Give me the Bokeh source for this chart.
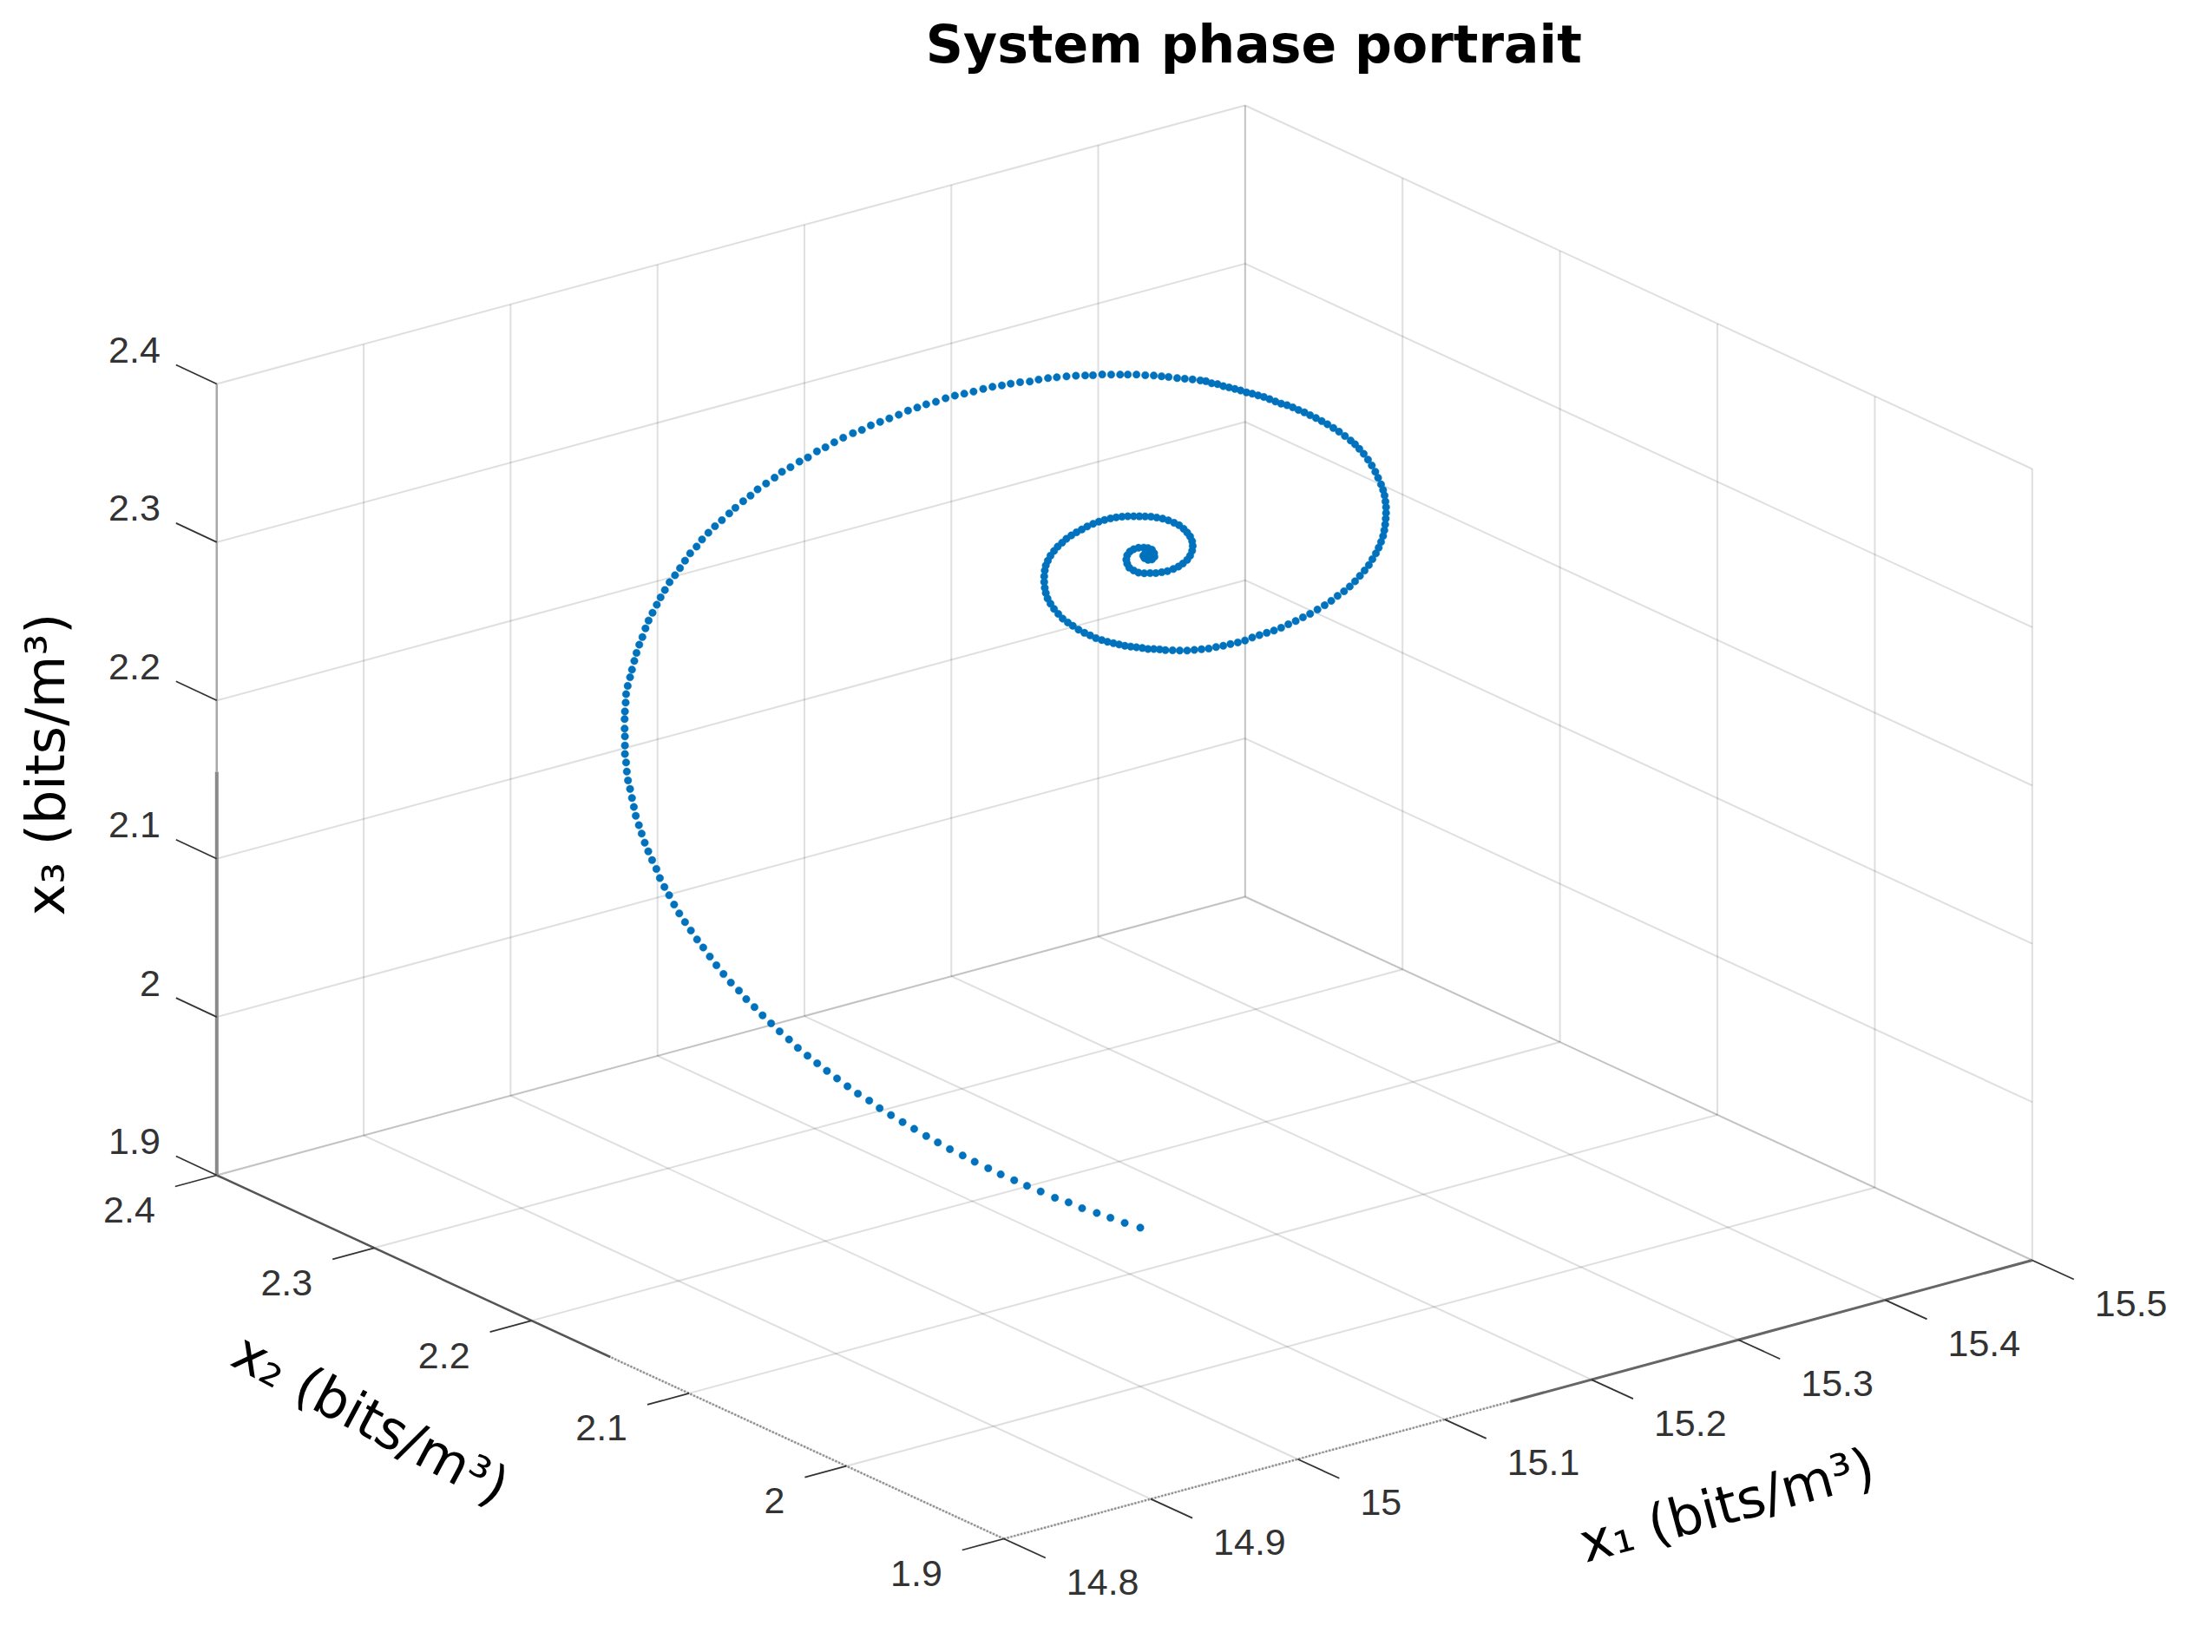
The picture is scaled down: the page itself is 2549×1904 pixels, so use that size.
from bokeh.core.properties import value
from bokeh.embed import file_html
from bokeh.models import Range1d
from bokeh.plotting import figure
from bokeh.resources import INLINE

x1_ticks = [14.8, 14.9, 15.0, 15.1, 15.2, 15.3, 15.4, 15.5]
x1_labels = ["14.8", "14.9", "15", "15.1", "15.2", "15.3", "15.4", "15.5"]
x2_ticks = [1.9, 2.0, 2.1, 2.2, 2.3, 2.4]
x2_labels = ["1.9", "2", "2.1", "2.2", "2.3", "2.4"]
x3_ticks = [1.9, 2.0, 2.1, 2.2, 2.3, 2.4]
x3_labels = ["1.9", "2", "2.1", "2.2", "2.3", "2.4"]

# a single view does not give the depth of the trajectory, so x2 stays at one value
x2_traj = 2.1495

x1_traj = [
    15.1602, 15.1496, 15.1399, 15.1306, 15.1206, 15.1114, 15.1021, 15.0924, 15.0831, 15.0744,
    15.0652, 15.0567, 15.0475, 15.0393, 15.0306, 15.0224, 15.0145, 15.0063, 14.9984, 14.9905,
    14.9828, 14.9757, 14.9680, 14.9609, 14.9538, 14.9469, 14.9403, 14.9337, 14.9271, 14.9211,
    14.9147, 14.9089, 14.9031, 14.8976, 14.8920, 14.8870, 14.8815, 14.8765, 14.8717, 14.8672,
    14.8627, 14.8585, 14.8543, 14.8503, 14.8464, 14.8429, 14.8395, 14.8363, 14.8332, 14.8308,
    14.8279, 14.8253, 14.8229, 14.8208, 14.8189, 14.8168, 14.8155, 14.8142, 14.8129, 14.8115,
    14.8107, 14.8102, 14.8094, 14.8094, 14.8094,
    14.8092, 14.8092, 14.8094, 14.8099, 14.8102, 14.8113, 14.8129, 14.8142, 14.8158, 14.8173,
    14.8192, 14.8213, 14.8234, 14.8255, 14.8282, 14.8311, 14.8337, 14.8366, 14.8398, 14.8435,
    14.8469, 14.8503, 14.8538, 14.8582, 14.8619, 14.8662, 14.8707, 14.8754, 14.8804, 14.8846,
    14.8899, 14.8949, 14.8997, 14.9055, 14.9113, 14.9163, 14.9221, 14.9282, 14.9340, 14.9401,
    14.9459, 14.9519, 14.9580, 14.9646, 14.9707, 14.9768, 14.9831, 14.9894, 14.9958, 15.0021,
    15.0084, 15.0145, 15.0211, 15.0277, 15.0340, 15.0404, 15.0467, 15.0533, 15.0596, 15.0660,
    15.0720, 15.0784, 15.0850, 15.0910, 15.0974, 15.1034, 15.1100, 15.1164, 15.1227, 15.1280,
    15.1343, 15.1404, 15.1465, 15.1517, 15.1576, 15.1636, 15.1694, 15.1747, 15.1795, 15.1853,
    15.1905, 15.1958, 15.2011,
    15.2049, 15.2088, 15.2128, 15.2167, 15.2206, 15.2246, 15.2285, 15.2325, 15.2364, 15.2404,
    15.2443, 15.2482, 15.2522, 15.2561, 15.2601, 15.2640, 15.2679, 15.2719, 15.2758, 15.2798,
    15.2837, 15.2876, 15.2916, 15.2955, 15.2995, 15.3034, 15.3064, 15.3093, 15.3123, 15.3152,
    15.3178, 15.3202, 15.3221, 15.3241, 15.3255, 15.3265, 15.3271, 15.3275, 15.3275, 15.3273,
    15.3269, 15.3263, 15.3255, 15.3241, 15.3225, 15.3206, 15.3182, 15.3158, 15.3129, 15.3097,
    15.3064, 15.3028, 15.2989, 15.2945, 15.2902, 15.2857, 15.2808, 15.2758, 15.2709, 15.2660,
    15.2610, 15.2561, 15.2512, 15.2463, 15.2413, 15.2364, 15.2315, 15.2266, 15.2216, 15.2167,
    15.2118, 15.2068, 15.2019, 15.1970, 15.1921, 15.1871, 15.1822, 15.1773,
    15.1734, 15.1694, 15.1655, 15.1616, 15.1576, 15.1537, 15.1497, 15.1458, 15.1419, 15.1379,
    15.1340, 15.1300, 15.1261, 15.1222, 15.1182, 15.1143, 15.1109, 15.1074, 15.1044, 15.1015,
    15.0991, 15.0971, 15.0959, 15.0952, 15.0948, 15.0948, 15.0952, 15.0959, 15.0973, 15.0991,
    15.1015, 15.1040, 15.1070, 15.1099, 15.1133, 15.1168, 15.1204, 15.1241, 15.1281, 15.1320,
    15.1359, 15.1399, 15.1438, 15.1478, 15.1517, 15.1557, 15.1596, 15.1635, 15.1675, 15.1714,
    15.1754, 15.1793, 15.1832, 15.1866, 15.1897, 15.1921, 15.1941, 15.1955, 15.1959, 15.1955,
    15.1941, 15.1921, 15.1892, 15.1862, 15.1827, 15.1787, 15.1748, 15.1708, 15.1669, 15.1629,
    15.1590, 15.1557, 15.1527, 15.1513, 15.1507, 15.1513, 15.1531, 15.1557, 15.1590, 15.1626,
    15.1655, 15.1681, 15.1696, 15.1698, 15.1681, 15.1655, 15.1631, 15.1622, 15.1635, 15.1655,
    15.1661, 15.1655,
]

x3_traj = [
    1.8914, 1.8971, 1.9027, 1.9081, 1.9136, 1.9196, 1.9249, 1.9313, 1.9372, 1.9429,
    1.9490, 1.9550, 1.9614, 1.9674, 1.9736, 1.9799, 1.9859, 1.9925, 1.9988, 2.0052,
    2.0115, 2.0181, 2.0244, 2.0308, 2.0376, 2.0441, 2.0505, 2.0570, 2.0636, 2.0704,
    2.0771, 2.0837, 2.0902, 2.0968, 2.1032, 2.1099, 2.1163, 2.1230, 2.1297, 2.1364,
    2.1432, 2.1493, 2.1561, 2.1624, 2.1688, 2.1753, 2.1821, 2.1881, 2.1945, 2.2009,
    2.2072, 2.2134, 2.2195, 2.2257, 2.2315, 2.2380, 2.2439, 2.2499, 2.2559, 2.2617,
    2.2675, 2.2733, 2.2789, 2.2843, 2.2900,
    2.2950, 2.3010, 2.3058, 2.3112, 2.3165, 2.3214, 2.3265, 2.3310, 2.3361, 2.3408,
    2.3455, 2.3498, 2.3548, 2.3592, 2.3634, 2.3678, 2.3718, 2.3757, 2.3798, 2.3833,
    2.3869, 2.3908, 2.3945, 2.3977, 2.4012, 2.4044, 2.4074, 2.4100, 2.4130, 2.4155,
    2.4184, 2.4207, 2.4234, 2.4256, 2.4279, 2.4303, 2.4318, 2.4338, 2.4350, 2.4373,
    2.4384, 2.4400, 2.4414, 2.4426, 2.4431, 2.4445, 2.4451, 2.4457, 2.4464, 2.4474,
    2.4478, 2.4483, 2.4482, 2.4488, 2.4489, 2.4485, 2.4482, 2.4483, 2.4480, 2.4473,
    2.4469, 2.4462, 2.4450, 2.4447, 2.4440, 2.4430, 2.4419, 2.4407, 2.4393, 2.4381,
    2.4370, 2.4354, 2.4339, 2.4326, 2.4311, 2.4292, 2.4275, 2.4257, 2.4241, 2.4219,
    2.4202, 2.4184, 2.4165,
    2.4150, 2.4127, 2.4112, 2.4089, 2.4071, 2.4052, 2.4032, 2.4010, 2.3992, 2.3971,
    2.3951, 2.3928, 2.3903, 2.3880, 2.3860, 2.3836, 2.3810, 2.3785, 2.3757, 2.3729,
    2.3700, 2.3670, 2.3637, 2.3603, 2.3566, 2.3528, 2.3496, 2.3460, 2.3421, 2.3377,
    2.3334, 2.3288, 2.3245, 2.3199, 2.3160, 2.3122, 2.3083, 2.3046, 2.3009, 2.2974,
    2.2938, 2.2903, 2.2869, 2.2835, 2.2803, 2.2771, 2.2741, 2.2710, 2.2682, 2.2657,
    2.2631, 2.2607, 2.2586, 2.2568, 2.2548, 2.2531, 2.2516, 2.2502, 2.2492, 2.2481,
    2.2473, 2.2463, 2.2458, 2.2456, 2.2454, 2.2451, 2.2445, 2.2445, 2.2447, 2.2449,
    2.2453, 2.2456, 2.2464, 2.2472, 2.2480, 2.2493, 2.2507, 2.2520,
    2.2535, 2.2547, 2.2557, 2.2573, 2.2588, 2.2602, 2.2617, 2.2635, 2.2653, 2.2672,
    2.2693, 2.2715, 2.2742, 2.2768, 2.2798, 2.2832, 2.2862, 2.2895, 2.2933, 2.2971,
    2.3010, 2.3048, 2.3086, 2.3120, 2.3158, 2.3194, 2.3230, 2.3260, 2.3287, 2.3314,
    2.3338, 2.3359, 2.3376, 2.3393, 2.3406, 2.3417, 2.3426, 2.3435, 2.3442, 2.3446,
    2.3447, 2.3446, 2.3443, 2.3438, 2.3430, 2.3420, 2.3410, 2.3400, 2.3388, 2.3373,
    2.3356, 2.3335, 2.3310, 2.3286, 2.3256, 2.3226, 2.3196, 2.3163, 2.3132, 2.3102,
    2.3075, 2.3053, 2.3037, 2.3026, 2.3019, 2.3016, 2.3019, 2.3023, 2.3033, 2.3042,
    2.3056, 2.3078, 2.3103, 2.3132, 2.3159, 2.3185, 2.3204, 2.3212, 2.3213, 2.3205,
    2.3195, 2.3178, 2.3152, 2.3129, 2.3116, 2.3120, 2.3137, 2.3155, 2.3167, 2.3157,
    2.3143, 2.3153,
]

X1_MIN, X1_MAX = x1_ticks[0], x1_ticks[-1]
X2_MIN, X2_MAX = x2_ticks[0], x2_ticks[-1]
X3_MIN, X3_MAX = x3_ticks[0], x3_ticks[-1]


def project(x1, x2, x3):
    # fixed orthographic view, result is in page pixels
    h = 1164.3 + 1692.9 * (x1 - X1_MIN) - 1814 * (x2 - X2_MIN)
    v = 1781 - 458.6 * (x1 - X1_MIN) - 838 * (x2 - X2_MIN) - 1824 * (x3 - X3_MIN)
    return h, v


def segment(p, a, b, **style):
    ax, ay = project(*a)
    bx, by = project(*b)
    p.line([ax, bx], [ay, by], **style)


p = figure(width=2533, height=1888, output_backend="svg", toolbar_location=None,
           x_range=Range1d(8, 2541), y_range=Range1d(1896, 8),
           x_axis_location=None, y_axis_location=None, min_border=0)
p.grid.visible = False
p.outline_line_color = None

grid_style = dict(line_color="#262626", line_alpha=0.15, line_width=2)
for x1 in x1_ticks:
    segment(p, (x1, X2_MIN, X3_MIN), (x1, X2_MAX, X3_MIN), **grid_style)
    segment(p, (x1, X2_MAX, X3_MIN), (x1, X2_MAX, X3_MAX), **grid_style)
for x2 in x2_ticks:
    segment(p, (X1_MIN, x2, X3_MIN), (X1_MAX, x2, X3_MIN), **grid_style)
    segment(p, (X1_MAX, x2, X3_MIN), (X1_MAX, x2, X3_MAX), **grid_style)
for x3 in x3_ticks:
    segment(p, (X1_MIN, X2_MAX, x3), (X1_MAX, X2_MAX, x3), **grid_style)
    segment(p, (X1_MAX, X2_MAX, x3), (X1_MAX, X2_MIN, x3), **grid_style)

# axis lines, each one is faded on part of its length in the original
segment(p, (X1_MIN, X2_MIN, X3_MIN), (15.145, X2_MIN, X3_MIN), line_color="#8c8c8c", line_width=2.5, line_dash="2 2")
segment(p, (15.145, X2_MIN, X3_MIN), (X1_MAX, X2_MIN, X3_MIN), line_color="#666666", line_width=3)
segment(p, (X1_MIN, X2_MIN, X3_MIN), (X1_MIN, 2.15, X3_MIN), line_color="#8c8c8c", line_width=2.5, line_dash="2 2")
segment(p, (X1_MIN, 2.15, X3_MIN), (X1_MIN, X2_MAX, X3_MIN), line_color="#555555", line_width=2.5)
segment(p, (X1_MIN, X2_MAX, X3_MIN), (X1_MIN, X2_MAX, 2.155), line_color="#8a8a8a", line_width=4)
segment(p, (X1_MIN, X2_MAX, 2.155), (X1_MIN, X2_MAX, X3_MAX), line_color="#a8a8a8", line_width=2.5)

tick_style = dict(line_color="#333333", line_width=1.8)
for x1 in x1_ticks:
    h, v = project(x1, X2_MIN, X3_MIN)
    p.line([h, h + 48], [v, v + 22], **tick_style)
for x2 in x2_ticks:
    h, v = project(X1_MIN, x2, X3_MIN)
    p.line([h, h - 48], [v, v + 13], **tick_style)
for x3 in x3_ticks:
    h, v = project(X1_MIN, X2_MAX, x3)
    p.line([h, h - 47], [v, v - 22], **tick_style)

# trajectory
traj = [project(a, x2_traj, c) for a, c in zip(x1_traj, x3_traj)]
p.scatter([t[0] for t in traj], [t[1] for t in traj], size=8.5, marker="circle",
          fill_color="#0072BD", line_color="#0072BD", line_width=0.5)

tick_font = dict(text_font=value("Liberation Sans"), text_font_size="43px", text_color="#333333", text_baseline="middle")
pos = [project(x, X2_MIN, X3_MIN) for x in x1_ticks]
p.text([q[0] for q in pos], [q[1] for q in pos], text=x1_labels, text_align="left", x_offset=72, y_offset=50, **tick_font)
pos = [project(X1_MIN, x, X3_MIN) for x in x2_ticks]
p.text([q[0] for q in pos], [q[1] for q in pos], text=x2_labels, text_align="right", x_offset=-71, y_offset=40, **tick_font)
pos = [project(X1_MIN, X2_MAX, x) for x in x3_ticks]
p.text([q[0] for q in pos], [q[1] for q in pos], text=x3_labels, text_align="right", x_offset=-65, y_offset=-39, **tick_font)

label_font = dict(text_font=value("DejaVu Sans"), text_font_size="62px", text_color="black",
                  text_align="center", text_baseline="middle")
h, v = project(15.32, X2_MIN, X3_MIN)
p.text([h], [v], text=["x\u2081 (bits/m\u00b3)"], angle=0.265, x_offset=-47, y_offset=199.5, **label_font)
h, v = project(X1_MIN, 2.15, X3_MIN)
p.text([h], [v], text=["x\u2082 (bits/m\u00b3)"], angle=-0.49, x_offset=-276, y_offset=71.5, **label_font)
h, v = project(X1_MIN, X2_MAX, 2.15)
p.text([h], [v], text=["x\u2083 (bits/m\u00b3)"], angle=1.5708, x_offset=-197, y_offset=-17.5, **label_font)

h, v = project(X1_MAX, X2_MAX, X3_MAX)
p.text([h], [v], text=["System phase portrait"], x_offset=10, y_offset=-70, text_font=value("DejaVu Sans"),
       text_font_size="60px", text_font_style="bold", text_color="black", text_align="center", text_baseline="middle")

open("out.html", "w").write(file_html(p, INLINE))
